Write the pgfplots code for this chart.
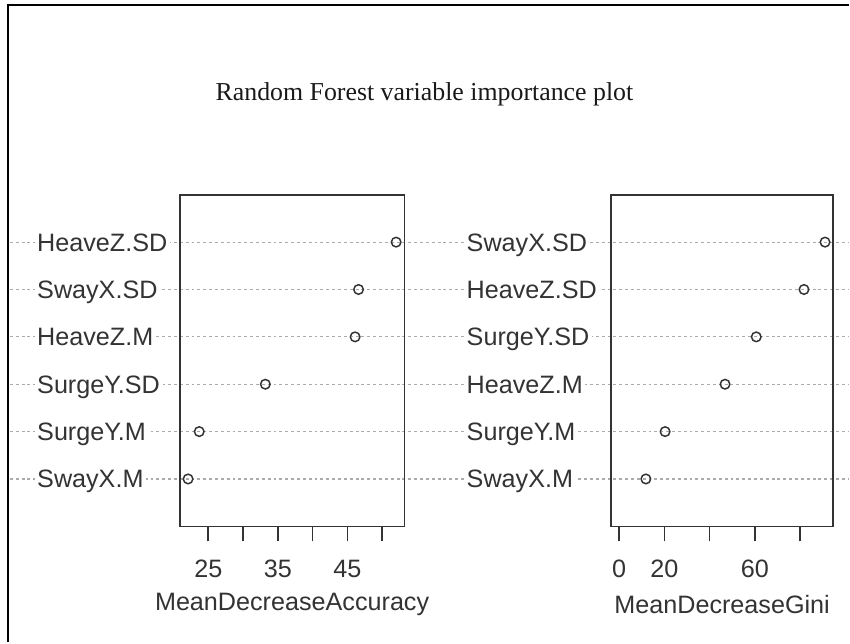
\documentclass[border=0pt]{standalone}
\usepackage{pgfplots}
\pgfplotsset{compat=1.18}
\usepackage{fontspec}
\setmainfont{Liberation Sans}
\newfontfamily\titlefont{Liberation Serif}

\definecolor{ink}{HTML}{333333}
\definecolor{gridc}{HTML}{ABABAB}

\pgfplotsset{
  dotpanel/.style={
    anchor=north west,
    scale only axis,
    height=249pt,
    ymin=0, ymax=7,
    ytick={1,...,6},
    axis line style={ink, line width=1.2pt},
    tick style={ink, line width=1.2pt},
    major tick length=11.25pt,
    tick align=outside,
    xtick pos=bottom,
    ytick pos=left,
    y tick style={draw=none},
    tick label style={font=\fontsize{18.9}{20}\selectfont, text=ink},
    xticklabel style={anchor=center, yshift=-21pt},
    yticklabel style={anchor=west, inner xsep=2pt, inner ysep=0pt,
      text height=13.5pt, text depth=0pt, fill=white},
    every axis x label/.style={at={(rel axis cs:0.5,0)}, yshift=-58.5pt, anchor=center,
      font=\fontsize{18.9}{20}\selectfont, text=ink},
    clip=false,
  },
  dots/.style={only marks, mark=o, mark size=3.6pt, mark options={ink, line width=1.1pt}},
}

\begin{document}
\begin{tikzpicture}
\fill[white] (0,0) rectangle (637.5pt,-482.25pt);
% frame (top and left edges)
\draw[black, line width=1.5pt] (6pt,-482.25pt) -- (6pt,-3.75pt) -- (637.5pt,-3.75pt);

\node[font=\titlefont\fontsize{19.4}{22}\selectfont, text=black!90] at (318.75pt,-71pt)
  {Random Forest variable importance plot};

% dotted row lines, drawn first so that labels and marks sit over them
\begin{axis}[
  anchor=north west, scale only axis, hide axis, clip=false,
  at={(135pt,-146.25pt)}, width=168.75pt, height=249pt,
  xmin=0, xmax=1, ymin=0, ymax=7,
]
\pgfplotsinvokeforeach{1,...,6}{
  \draw[gridc, line width=0.9pt, dash pattern=on 2.2pt off 2.2pt]
    (axis cs:-0.756,#1) -- (axis cs:2.98,#1);
}
\end{axis}

% left panel: MeanDecreaseAccuracy
\begin{axis}[dotpanel,
  at={(135pt,-146.25pt)}, width=168.75pt,
  xmin=20.904, xmax=53.196,
  xtick={25,30,35,40,45,50},
  xticklabels={25,,35,,45,},
  yticklabels={SwayX.M,SurgeY.M,SurgeY.SD,HeaveZ.M,SwayX.SD,HeaveZ.SD},
  yticklabel style={xshift=-98pt},
  xlabel={MeanDecreaseAccuracy},
]
\addplot[dots] coordinates {
  (22.1,1) (23.7,2) (33.2,3) (46.1,4) (46.6,5) (52.0,6)
};
\end{axis}

% right panel: MeanDecreaseGini
\begin{axis}[dotpanel,
  at={(458.8pt,-146.25pt)}, width=166.95pt,
  xmin=-3.64, xmax=94.64,
  xtick={0,20,40,60,80},
  xticklabels={0,20,,60,},
  yticklabels={SwayX.M,SurgeY.M,HeaveZ.M,SurgeY.SD,HeaveZ.SD,SwayX.SD},
  yticklabel style={xshift=-99.25pt},
  xlabel={MeanDecreaseGini},
]
\addplot[dots] coordinates {
  (11.8,1) (20.3,2) (46.8,3) (60.6,4) (81.7,5) (91.0,6)
};
\end{axis}
\useasboundingbox (0,0) rectangle (637.5pt,-482.25pt);
\end{tikzpicture}
\end{document}
